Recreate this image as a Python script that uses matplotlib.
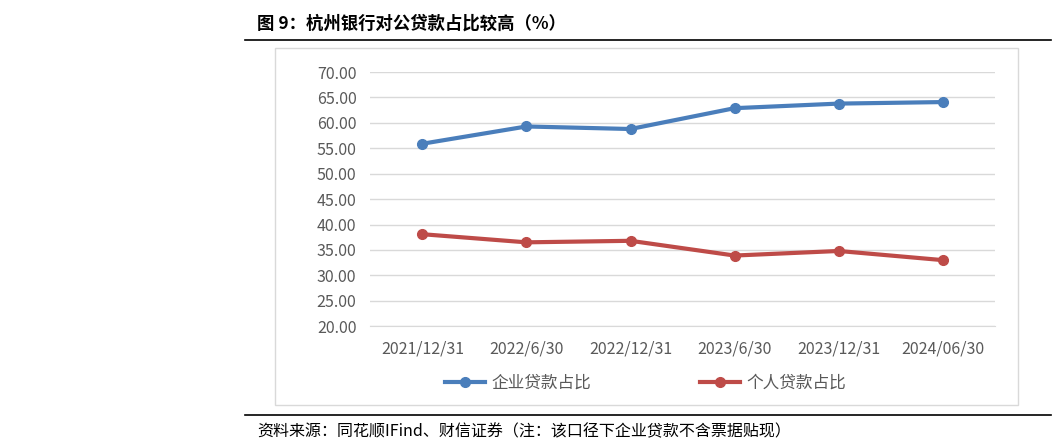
import matplotlib
matplotlib.use("Agg")
import matplotlib.pyplot as plt
from matplotlib.patches import Rectangle
from matplotlib.lines import Line2D

plt.rcParams["font.family"] = ["Noto Sans CJK SC", "DejaVu Sans"]

dates = ["2021/12/31", "2022/6/30", "2022/12/31", "2023/6/30", "2023/12/31", "2024/06/30"]
corp = [55.9, 59.3, 58.8, 62.9, 63.8, 64.1]
retail = [38.1, 36.5, 36.8, 33.9, 34.8, 33.0]

BLUE = "#4A7EBB"
RED = "#BE4B48"

fig = plt.figure(figsize=(10.64, 4.45), dpi=100)

# outer chart frame
fig.add_artist(Rectangle((0.258, 0.09), 0.699, 0.802, transform=fig.transFigure,
                         fill=False, edgecolor="#D9D9D9", linewidth=1))
# title + rules
fig.text(0.242, 0.948, "图 9：杭州银行对公贷款占比较高（%）", fontsize=12.5,
         fontweight="bold", va="center", ha="left")
fig.add_artist(Line2D([0.23, 0.988], [0.91, 0.91], color="black", linewidth=1.2,
                      transform=fig.transFigure))
fig.add_artist(Line2D([0.23, 0.988], [0.067, 0.067], color="black", linewidth=1.2,
                      transform=fig.transFigure))
fig.text(0.242, 0.029, "资料来源：同花顺IFind、财信证券（注：该口径下企业贷款不含票据贴现）",
         fontsize=11.5, style="italic", va="center", ha="left")

ax = fig.add_axes([0.348, 0.267, 0.587, 0.571])
x = range(len(dates))
ax.plot(x, corp, color=BLUE, linewidth=3, marker="o", markersize=7, label="企业贷款占比")
ax.plot(x, retail, color=RED, linewidth=3, marker="o", markersize=7, label="个人贷款占比")
ax.set_ylim(20, 70)
ax.set_yticks(range(20, 71, 5))
ax.set_yticklabels([f"{v:.2f}" for v in range(20, 71, 5)])
ax.set_xlim(-0.5, len(dates) - 0.5)
ax.set_xticks(list(x))
ax.set_xticklabels(dates)
ax.grid(axis="y", color="#D9D9D9", linewidth=1)
ax.set_axisbelow(True)
for s in ["top", "right", "left"]:
    ax.spines[s].set_visible(False)
ax.spines["bottom"].set_color("#D9D9D9")
ax.tick_params(length=0, labelsize=11.5, colors="#595959", pad=10)

fig.legend(loc="center", bbox_to_anchor=(0.607, 0.139), ncol=2, frameon=False,
           fontsize=12, columnspacing=6.5, handlelength=2.4, handletextpad=0.4,
           labelcolor="#595959")

fig.savefig("out.png", dpi=100)
